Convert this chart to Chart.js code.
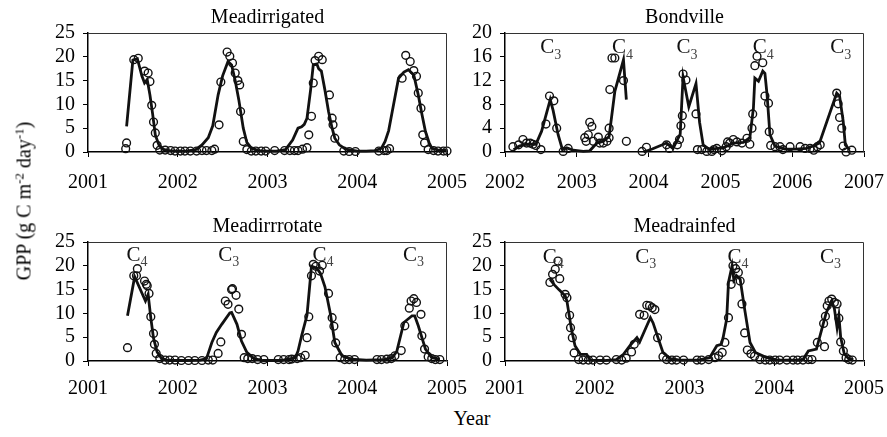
<!DOCTYPE html>
<html>
<head>
<meta charset="utf-8">
<script src="https://cdn.jsdelivr.net/npm/chart.js@4/dist/chart.umd.min.js"></script>
<style>
  html, body { margin: 0; padding: 0; background: #fff; }
  body { width: 887px; height: 437px; position: relative; overflow: hidden; font-family: "Liberation Serif", "Times New Roman", serif; color: #000; }
  .panel { position: absolute; }
  .ylab { position: absolute; left: 24px; top: 201px; transform: translate(-50%, -50%) rotate(-90deg); white-space: nowrap; font-size: 20px; }
  .ylab sup { font-size: 13px; vertical-align: 7px; line-height: 0; }
  .xlab { position: absolute; left: 472px; top: 418px; transform: translate(-50%, -50%); font-size: 20px; white-space: nowrap; }
</style>
</head>
<body>
<div class="panel" style="left:0;top:0"><canvas id="c1" width="472" height="197"></canvas></div>
<div class="panel" style="left:417px;top:0"><canvas id="c2" width="472" height="197"></canvas></div>
<div class="panel" style="left:0;top:209px"><canvas id="c3" width="472" height="197"></canvas></div>
<div class="panel" style="left:417px;top:209px"><canvas id="c4" width="472" height="197"></canvas></div>
<div class="ylab">GPP (g C m<sup>-2</sup> day<sup>-1</sup>)</div>
<div class="xlab">Year</div>
<script>
// ---------- tick labels ----------
const yearTicksMead = [2001, 2002, 2003, 2004, 2005];
const yearTicksBond = [2002, 2003, 2004, 2005, 2006, 2007];
const gppTicksMead = [0, 5, 10, 15, 20, 25];
const gppTicksBond = [0, 4, 8, 12, 16, 20];

// ---------- panel titles ----------
const panelTitles = ["Meadirrigated", "Bondville", "Meadirrrotate", "Meadrainfed"];

// ---------- Meadirrigated ----------
const irrigatedModel = [[2001.43,5.4],[2001.50,19.3],[2001.55,19.6],[2001.60,16.0],[2001.63,14.5],[2001.66,15.2],[2001.69,12.0],[2001.72,8.0],[2001.75,3.6],[2001.79,1.5],[2001.83,0.6],[2001.90,0.3],[2002.00,0.2],[2002.10,0.2],[2002.20,0.5],[2002.27,1.5],[2002.34,3.0],[2002.39,5.5],[2002.45,12.0],[2002.50,16.0],[2002.56,19.0],[2002.60,18.3],[2002.64,15.0],[2002.68,11.0],[2002.73,5.0],[2002.77,2.0],[2002.82,0.8],[2002.90,0.3],[2003.00,0.2],[2003.10,0.2],[2003.20,0.5],[2003.28,2.5],[2003.34,5.0],[2003.38,5.3],[2003.41,5.8],[2003.44,7.1],[2003.48,13.0],[2003.51,18.3],[2003.55,18.5],[2003.57,17.5],[2003.60,17.0],[2003.64,13.0],[2003.68,8.5],[2003.72,5.0],[2003.75,2.9],[2003.80,1.5],[2003.87,0.6],[2004.00,0.2],[2004.10,0.2],[2004.20,0.3],[2004.27,0.8],[2004.31,2.2],[2004.35,4.5],[2004.40,9.5],[2004.46,15.5],[2004.52,16.8],[2004.57,17.3],[2004.63,16.2],[2004.68,12.0],[2004.72,8.0],[2004.76,4.3],[2004.80,2.0],[2004.83,0.8],[2004.90,0.4],[2005.00,0.4]];
const irrigatedObs = [[2001.42,0.7],[2001.43,1.9],[2001.51,19.4],[2001.56,19.7],[2001.63,17.0],[2001.67,16.6],[2001.69,14.8],[2001.71,9.8],[2001.73,6.3],[2001.75,4.0],[2001.77,1.4],[2001.80,0.4],[2001.86,0.4],[2001.92,0.3],[2001.97,0.2],[2002.03,0.2],[2002.08,0.2],[2002.14,0.2],[2002.21,0.2],[2002.27,0.3],[2002.32,0.3],[2002.38,0.3],[2002.41,0.6],[2002.46,5.7],[2002.48,14.7],[2002.55,21.0],[2002.58,20.1],[2002.61,18.7],[2002.64,16.6],[2002.67,15.0],[2002.69,14.1],[2002.70,8.5],[2002.73,2.2],[2002.77,0.5],[2002.82,0.2],[2002.87,0.2],[2002.93,0.2],[2002.98,0.2],[2003.08,0.3],[2003.19,0.3],[2003.25,0.3],[2003.30,0.3],[2003.34,0.3],[2003.39,0.6],[2003.44,0.9],[2003.46,3.6],[2003.49,7.5],[2003.51,14.5],[2003.53,19.2],[2003.57,20.1],[2003.61,19.4],[2003.69,12.0],[2003.72,7.1],[2003.73,5.7],[2003.75,2.9],[2003.85,0.2],[2003.91,0.1],[2003.98,0.1],[2004.24,0.2],[2004.30,0.3],[2004.33,0.3],[2004.36,0.7],[2004.50,15.5],[2004.54,20.3],[2004.59,19.0],[2004.63,17.1],[2004.66,15.9],[2004.68,12.4],[2004.71,9.2],[2004.73,3.6],[2004.75,1.9],[2004.79,0.5],[2004.85,0.3],[2004.90,0.2],[2004.96,0.2],[2005.00,0.2]];

// ---------- Bondville ----------
const bondvilleModel = [[2002.12,0.4],[2002.20,1.0],[2002.30,1.3],[2002.43,1.3],[2002.51,3.5],[2002.63,8.8],[2002.67,7.0],[2002.74,2.9],[2002.80,0.4],[2002.86,0.7],[2002.95,0.3],[2003.09,0.1],[2003.18,0.2],[2003.28,1.5],[2003.37,1.8],[2003.45,2.6],[2003.53,10.2],[2003.65,15.5],[2003.69,8.8],[2003.80,null],[2003.93,0.0],[2004.05,0.5],[2004.25,1.5],[2004.34,0.6],[2004.44,3.0],[2004.48,12.6],[2004.56,7.6],[2004.66,11.5],[2004.71,5.0],[2004.76,1.2],[2004.85,0.4],[2004.95,0.6],[2005.04,0.7],[2005.18,1.5],[2005.32,1.6],[2005.41,2.4],[2005.46,7.4],[2005.48,12.4],[2005.53,11.9],[2005.59,13.6],[2005.62,13.2],[2005.65,9.6],[2005.69,2.9],[2005.76,1.0],[2005.90,0.5],[2006.05,0.5],[2006.20,0.6],[2006.29,1.0],[2006.38,1.5],[2006.62,9.9],[2006.66,9.4],[2006.71,5.2],[2006.74,1.2],[2006.80,0.4]];
const bondvilleObs = [[2002.11,0.9],[2002.19,1.2],[2002.25,2.1],[2002.30,1.5],[2002.35,1.5],[2002.39,1.3],[2002.43,1.1],[2002.50,0.4],[2002.57,4.7],[2002.62,9.4],[2002.68,8.6],[2002.72,4.0],[2002.81,0.1],[2002.88,0.6],[2003.11,2.4],[2003.13,1.8],[2003.16,2.9],[2003.18,5.0],[2003.21,4.3],[2003.23,1.8],[2003.30,2.5],[2003.32,1.5],[2003.37,1.5],[2003.42,1.8],[2003.45,2.4],[2003.45,4.0],[2003.46,10.5],[2003.49,15.8],[2003.53,15.8],[2003.65,12.0],[2003.69,1.8],[2003.91,0.1],[2003.97,0.8],[2004.25,1.2],[2004.29,0.6],[2004.40,1.2],[2004.43,2.1],[2004.45,4.4],[2004.47,6.1],[2004.48,13.1],[2004.52,12.1],[2004.66,6.4],[2004.68,0.4],[2004.74,0.4],[2004.81,0.1],[2004.88,0.1],[2004.91,0.4],[2004.95,0.6],[2005.02,0.2],[2005.08,0.9],[2005.10,1.7],[2005.13,1.5],[2005.18,2.1],[2005.23,1.7],[2005.30,1.5],[2005.37,2.3],[2005.41,1.3],[2005.44,4.0],[2005.45,6.4],[2005.48,14.5],[2005.51,16.1],[2005.59,15.0],[2005.62,9.4],[2005.67,8.2],[2005.68,3.4],[2005.70,1.1],[2005.76,0.9],[2005.83,0.9],[2005.87,0.4],[2005.97,0.9],[2006.11,0.9],[2006.18,0.6],[2006.25,0.6],[2006.30,0.3],[2006.35,0.9],[2006.39,1.2],[2006.62,9.9],[2006.64,8.1],[2006.66,5.8],[2006.69,4.0],[2006.71,1.0],[2006.75,0.0],[2006.83,0.3]];

// ---------- Meadirrrotate ----------
const rotateModel = [[2001.44,9.5],[2001.52,17.7],[2001.64,12.6],[2001.67,14.0],[2001.70,9.0],[2001.73,4.8],[2001.77,1.9],[2001.82,0.5],[2001.90,0.1],[2002.10,0.1],[2002.25,0.2],[2002.32,0.5],[2002.38,3.9],[2002.43,6.0],[2002.49,7.7],[2002.58,10.1],[2002.60,10.2],[2002.66,7.7],[2002.71,4.2],[2002.77,1.8],[2002.85,0.5],[2002.95,0.1],[2003.15,0.1],[2003.31,0.7],[2003.34,2.1],[2003.38,5.3],[2003.44,9.6],[2003.49,19.9],[2003.55,19.5],[2003.59,18.4],[2003.64,15.6],[2003.70,10.0],[2003.75,3.9],[2003.83,1.1],[2003.93,0.4],[2004.10,0.2],[2004.30,0.3],[2004.39,0.7],[2004.44,2.0],[2004.52,8.1],[2004.61,9.5],[2004.64,9.5],[2004.68,7.4],[2004.76,2.5],[2004.83,0.7],[2004.92,0.4]];
const rotateObs = [[2001.44,2.8],[2001.51,17.9],[2001.54,17.9],[2001.55,19.4],[2001.63,16.8],[2001.65,16.1],[2001.66,15.8],[2001.68,14.2],[2001.70,9.3],[2001.73,5.8],[2001.74,3.5],[2001.76,1.6],[2001.80,0.5],[2001.86,0.2],[2001.91,0.2],[2001.97,0.2],[2002.04,0.1],[2002.12,0.1],[2002.19,0.1],[2002.27,0.1],[2002.34,0.2],[2002.39,0.2],[2002.45,1.6],[2002.48,4.0],[2002.53,12.6],[2002.56,11.9],[2002.60,15.0],[2002.61,15.2],[2002.65,13.8],[2002.68,10.9],[2002.71,5.6],[2002.74,0.7],[2002.78,0.5],[2002.83,0.5],[2002.89,0.3],[2002.96,0.3],[2003.12,0.3],[2003.18,0.3],[2003.24,0.3],[2003.27,0.4],[2003.33,0.5],[2003.37,0.7],[2003.42,1.2],[2003.44,4.9],[2003.46,9.3],[2003.49,17.9],[2003.51,20.3],[2003.54,19.9],[2003.58,18.9],[2003.61,20.1],[2003.68,14.2],[2003.72,9.1],[2003.74,7.3],[2003.76,3.8],[2003.81,0.7],[2003.86,0.3],[2003.91,0.3],[2003.97,0.3],[2004.22,0.3],[2004.27,0.3],[2004.33,0.4],[2004.38,0.5],[2004.42,1.1],[2004.49,2.2],[2004.53,7.4],[2004.58,11.1],[2004.60,12.6],[2004.63,13.1],[2004.66,12.3],[2004.71,9.8],[2004.72,5.3],[2004.75,2.5],[2004.79,0.9],[2004.83,0.5],[2004.87,0.3],[2004.92,0.3]];

// ---------- Meadrainfed ----------
const rainfedModel = [[2001.50,17.2],[2001.55,16.0],[2001.60,15.0],[2001.67,13.7],[2001.69,12.6],[2001.74,6.7],[2001.78,3.2],[2001.84,1.4],[2001.91,1.4],[2001.95,0.2],[2002.10,0.1],[2002.24,0.3],[2002.32,1.4],[2002.39,3.2],[2002.47,4.9],[2002.50,4.0],[2002.58,7.4],[2002.62,9.1],[2002.65,8.0],[2002.71,4.6],[2002.76,1.8],[2002.84,0.5],[2002.95,0.2],[2003.15,0.2],[2003.28,0.7],[2003.36,3.2],[2003.41,3.5],[2003.43,4.9],[2003.47,8.8],[2003.49,16.5],[2003.53,20.0],[2003.55,17.0],[2003.58,17.9],[2003.62,17.2],[2003.67,10.9],[2003.73,3.9],[2003.79,1.8],[2003.92,0.7],[2004.04,0.2],[2004.25,0.2],[2004.32,0.3],[2004.38,2.1],[2004.47,2.5],[2004.58,10.2],[2004.64,12.6],[2004.67,11.0],[2004.70,7.0],[2004.72,9.5],[2004.74,5.0],[2004.78,1.5],[2004.83,0.5],[2004.88,0.3]];
const rainfedObs = [[2001.50,16.5],[2001.53,18.2],[2001.56,19.3],[2001.59,21.0],[2001.61,17.3],[2001.67,14.0],[2001.69,13.3],[2001.72,9.6],[2001.73,7.0],[2001.75,4.9],[2001.77,1.7],[2001.82,0.3],[2001.87,0.2],[2001.93,0.2],[2001.98,0.2],[2002.06,0.2],[2002.13,0.2],[2002.24,0.3],[2002.30,0.2],[2002.35,0.6],[2002.41,1.9],[2002.44,3.5],[2002.50,9.8],[2002.55,9.6],[2002.58,11.7],[2002.61,11.6],[2002.64,11.2],[2002.67,10.8],[2002.70,4.9],[2002.76,0.9],[2002.80,0.3],[2002.86,0.2],[2002.91,0.2],[2002.99,0.2],[2003.14,0.2],[2003.19,0.2],[2003.27,0.3],[2003.34,0.7],[2003.38,1.1],[2003.42,1.8],[2003.45,3.9],[2003.49,9.1],[2003.52,16.1],[2003.54,20.0],[2003.57,19.4],[2003.60,18.6],[2003.62,16.8],[2003.64,12.0],[2003.67,5.9],[2003.70,2.3],[2003.74,1.5],[2003.78,1.0],[2003.84,0.3],[2003.90,0.2],[2003.95,0.2],[2004.01,0.2],[2004.06,0.2],[2004.14,0.2],[2004.21,0.2],[2004.26,0.2],[2004.32,0.2],[2004.38,0.3],[2004.42,0.3],[2004.48,3.9],[2004.55,7.9],[2004.56,3.0],[2004.57,9.4],[2004.59,11.6],[2004.61,12.6],[2004.64,13.0],[2004.67,12.3],[2004.70,12.0],[2004.72,9.0],[2004.74,4.0],[2004.77,2.1],[2004.80,0.7],[2004.83,0.3],[2004.87,0.2]];

// ---------- photosynthetic pathway annotations (year, subscript) ----------
const irrigatedPathways = [];
const bondvillePathwayYears = [2002.49, 2003.49, 2004.39, 2005.45, 2006.53];
const bondvillePathwaySubs = ["3", "4", "3", "4", "3"];
const rotatePathwayYears = [2001.43, 2002.45, 2003.50, 2004.51];
const rotatePathwaySubs = ["4", "3", "4", "3"];
const rainfedPathwayYears = [2001.42, 2002.45, 2003.48, 2004.51];
const rainfedPathwaySubs = ["4", "3", "4", "3"];
const bondvillePathwayLevel = 17.5;
const meadPathwayLevel = 22.2;

const FONT = "Liberation Serif";
const toXY = arr => arr.map(([x, y]) => ({ x: x, y: y }));

const boxPlugin = {
  id: "box",
  afterDraw(chart) {
    const a = chart.chartArea, ctx = chart.ctx;
    ctx.save();
    ctx.strokeStyle = "#333";
    ctx.lineWidth = 1;
    ctx.beginPath();
    ctx.moveTo(a.left, a.top + 0.5);
    ctx.lineTo(a.right - 0.5, a.top + 0.5);
    ctx.lineTo(a.right - 0.5, a.bottom);
    ctx.stroke();
    ctx.restore();
  }
};

const pathwayPlugin = {
  id: "pathway",
  afterDatasetsDraw(chart, args, opts) {
    const years = opts.years || [], subs = opts.subs || [];
    const ctx = chart.ctx, xs = chart.scales.x, ys = chart.scales.y;
    ctx.save();
    ctx.fillStyle = "#111";
    ctx.textBaseline = "middle";
    ctx.textAlign = "left";
    years.forEach((yr, i) => {
      const px = xs.getPixelForValue(yr);
      const py = ys.getPixelForValue(opts.level);
      ctx.font = "21px '" + FONT + "'";
      ctx.fillText("C", px, py);
      const w = ctx.measureText("C").width;
      ctx.font = "14px '" + FONT + "'";
      ctx.fillStyle = "#444";
      ctx.fillText(subs[i], px + w, py + 7);
      ctx.fillStyle = "#111";
    });
    ctx.restore();
  }
};

function makePanel(id, title, xTicks, yTicks, model, obs, pathYears, pathSubs, pathLevel, xPad) {
  const tickFont = { family: FONT, size: 20 };
  new Chart(document.getElementById(id), {
    type: "scatter",
    data: {
      datasets: [
        {
          data: toXY(obs),
          showLine: false,
          pointRadius: 3.9,
          pointBorderWidth: 1.4,
          pointBorderColor: "#111",
          pointBackgroundColor: "rgba(255,255,255,0)",
          clip: false,
          order: 1
        },
        {
          data: toXY(model),
          showLine: true,
          spanGaps: false,
          borderColor: "#111",
          borderWidth: 2.8,
          pointRadius: 0,
          tension: 0,
          clip: false,
          order: 2
        }
      ]
    },
    options: {
      responsive: false,
      animation: false,
      events: [],
      layout: { padding: { left: 0, right: 25, top: 0, bottom: 0 } },
      plugins: {
        legend: { display: false },
        tooltip: { enabled: false },
        title: {
          display: true,
          text: title,
          fullSize: false,
          color: "#000",
          font: { family: FONT, size: 20, weight: "normal" },
          padding: { top: 6, bottom: 3 }
        },
        pathway: { years: pathYears, subs: pathSubs, level: pathLevel }
      },
      scales: {
        x: {
          type: "linear",
          min: xTicks[0],
          max: xTicks[xTicks.length - 1],
          afterBuildTicks: s => { s.ticks = xTicks.map(v => ({ value: v })); },
          afterFit: s => { s.height = 45; s.paddingLeft = 0; s.paddingRight = 0; },
          ticks: { callback: v => String(v), color: "#000", font: tickFont, padding: xPad, maxRotation: 0, autoSkip: false },
          grid: { display: true, drawOnChartArea: false, drawTicks: true, tickLength: 5, color: "#000", lineWidth: 1 },
          border: { display: true, color: "#000", width: 1.5 }
        },
        y: {
          type: "linear",
          min: yTicks[0],
          max: yTicks[yTicks.length - 1],
          afterBuildTicks: s => { s.ticks = yTicks.map(v => ({ value: v })); },
          afterFit: s => { s.width = 88; s.paddingTop = 0; s.paddingBottom = 0; },
          ticks: { callback: v => String(v), color: "#000", font: tickFont, padding: 8, autoSkip: false },
          grid: { display: true, drawOnChartArea: false, drawTicks: true, tickLength: 5, color: "#000", lineWidth: 1 },
          border: { display: true, color: "#000", width: 1.5 }
        }
      }
    },
    plugins: [boxPlugin, pathwayPlugin]
  });
}

makePanel("c1", panelTitles[0], yearTicksMead, gppTicksMead, irrigatedModel, irrigatedObs, irrigatedPathways, [], meadPathwayLevel, 14);
makePanel("c2", panelTitles[1], yearTicksBond, gppTicksBond, bondvilleModel, bondvilleObs, bondvillePathwayYears, bondvillePathwaySubs, bondvillePathwayLevel, 14);
makePanel("c3", panelTitles[2], yearTicksMead, gppTicksMead, rotateModel, rotateObs, rotatePathwayYears, rotatePathwaySubs, meadPathwayLevel, 11);
makePanel("c4", panelTitles[3], yearTicksMead, gppTicksMead, rainfedModel, rainfedObs, rainfedPathwayYears, rainfedPathwaySubs, 21.8, 11);
</script>
</body>
</html>
